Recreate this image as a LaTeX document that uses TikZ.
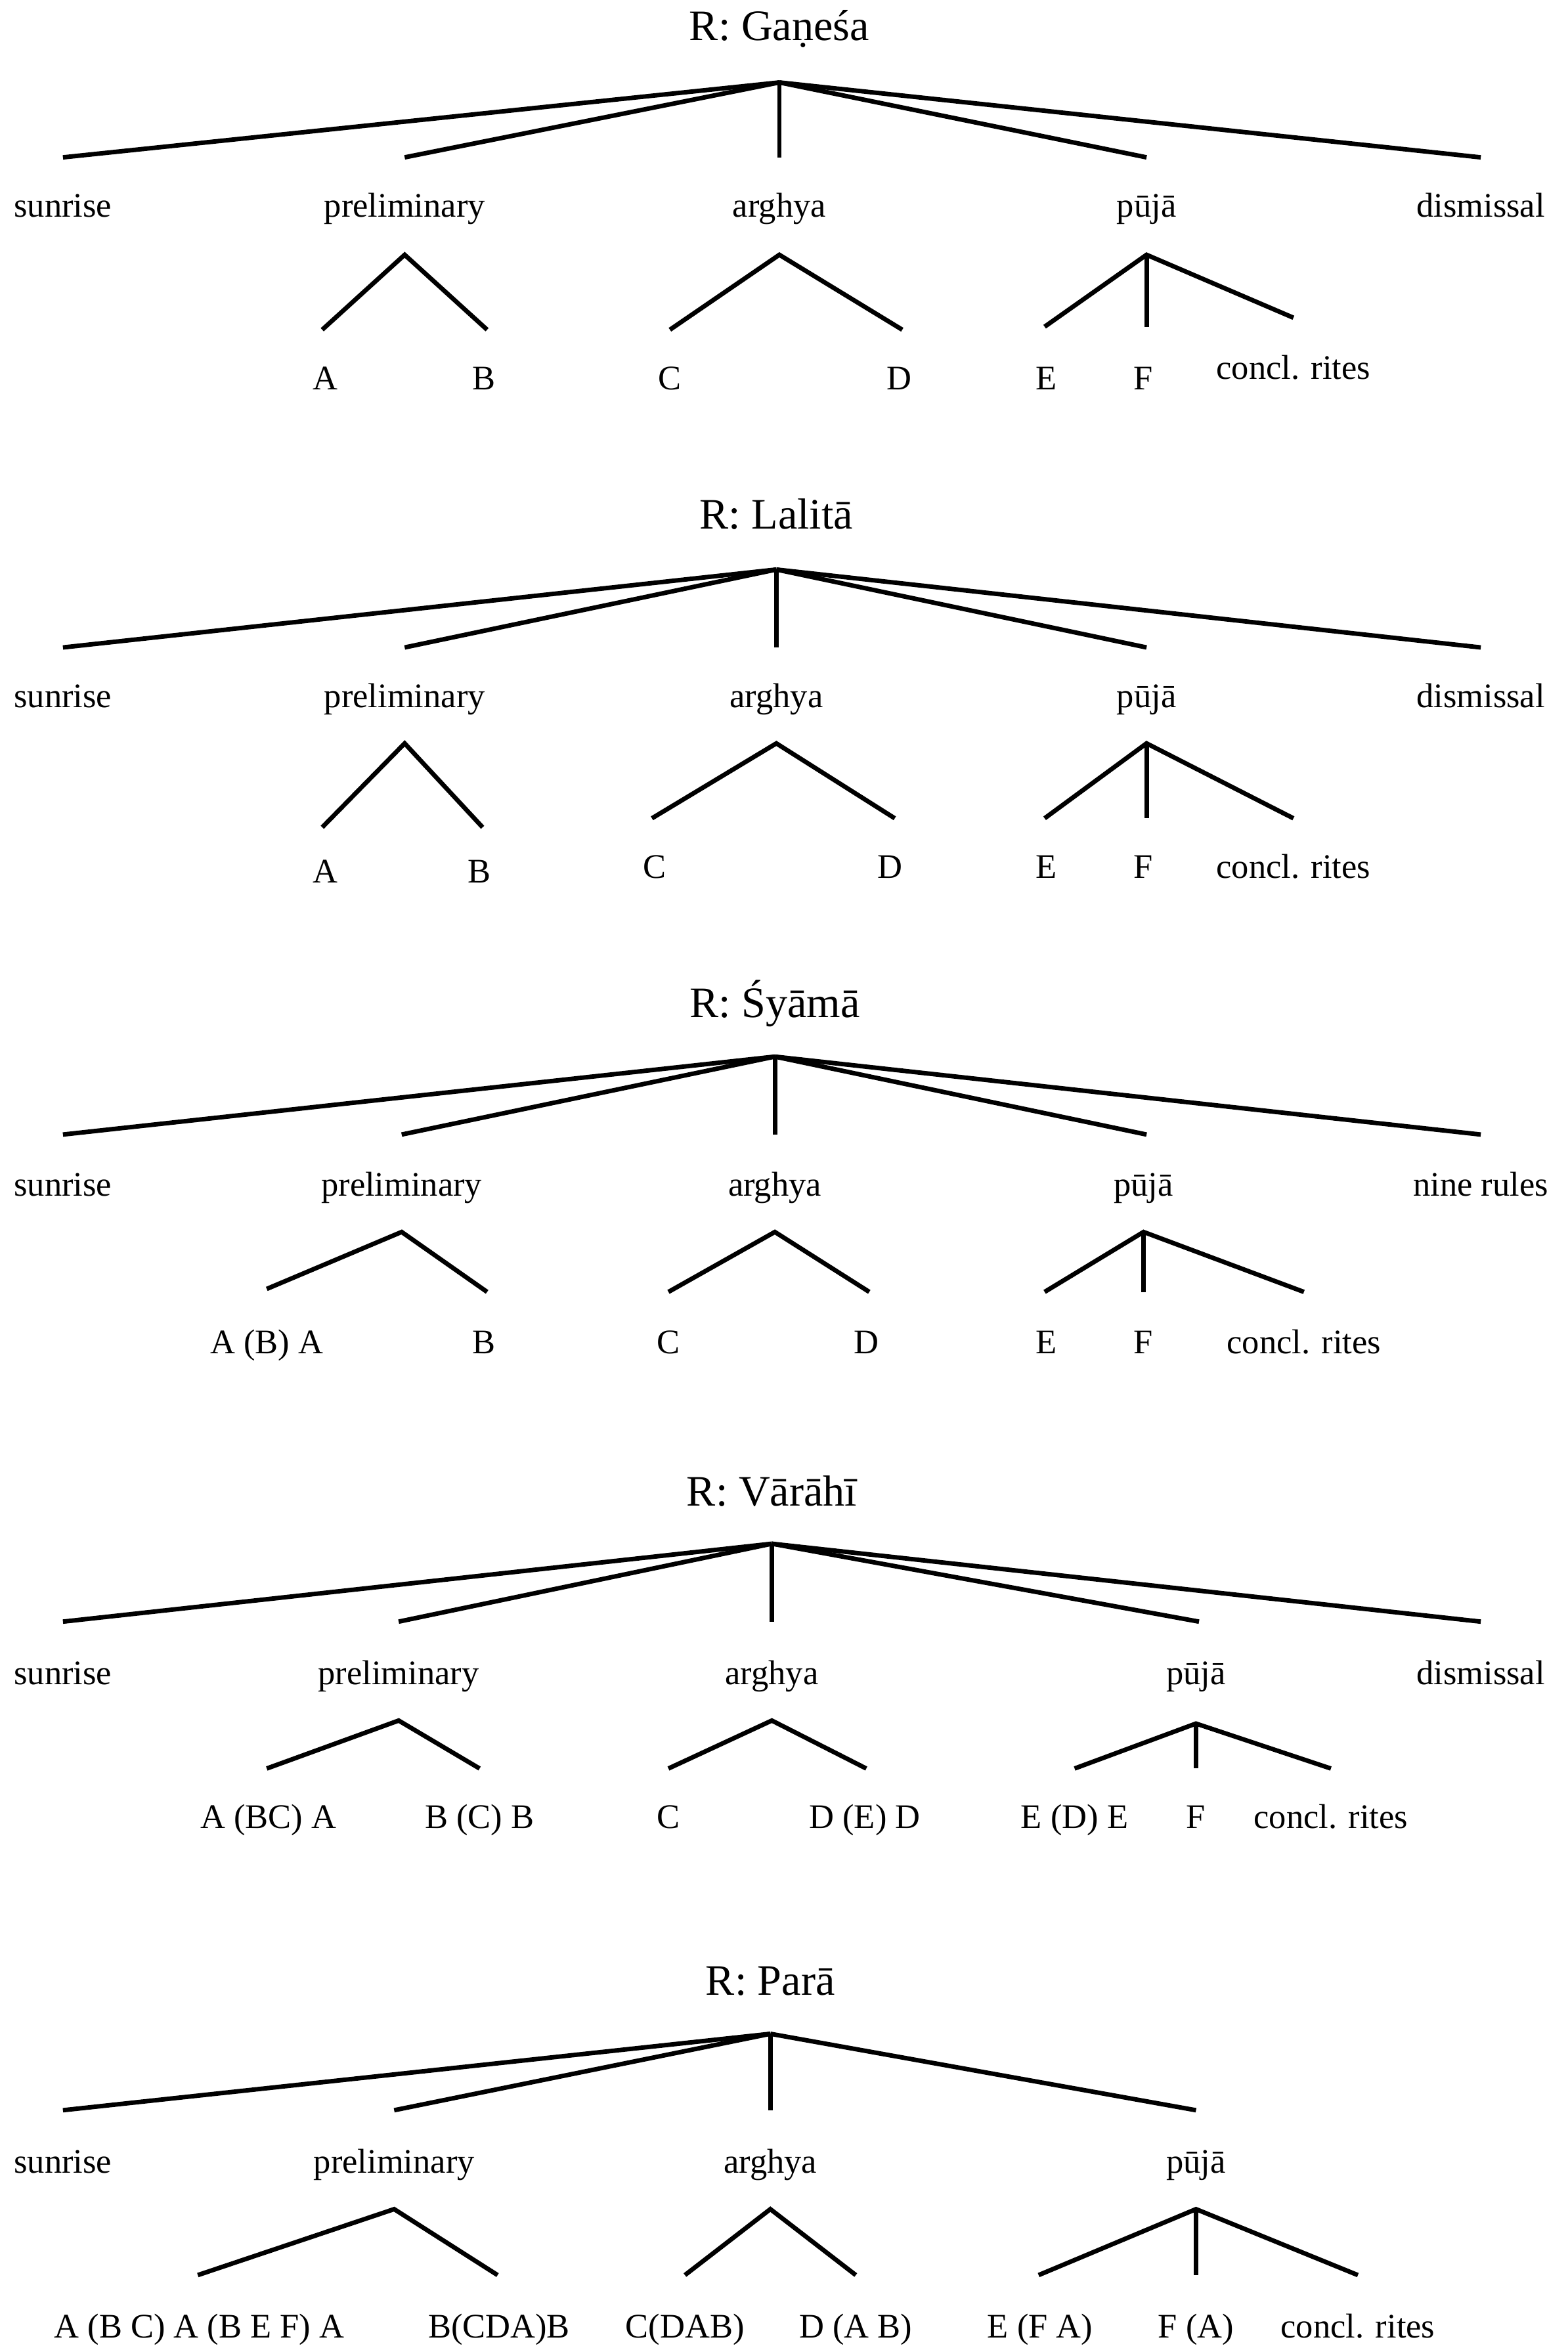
\documentclass[tikz,border=0pt]{standalone}
\usepackage{fontspec}
\setmainfont{Liberation Serif}
\begin{document}
\begin{tikzpicture}[x=0.5pt,y=-0.5pt,
  lbl/.style={font=\fontsize{11.5}{13}\selectfont,inner sep=0pt,anchor=base},
  ttl/.style={font=\fontsize{14.5}{16}\selectfont,inner sep=0pt,anchor=base},
  br/.style={line width=1.5pt}]
\useasboundingbox (0,0) rectangle (1046,1568);
% ---------- Tree 1
\node[ttl] (t1) at (520,27) {R: Gaṇeśa};
\coordinate (r1) at (520,55);
\foreach \n/\x in {s/42,p/270,a/520,u/765,d/988}{\coordinate (r1\n) at (\x,105);}
\node[lbl] (l1s) at (42,145) {sunrise};
\node[lbl] (l1p) at (270,145) {preliminary};
\node[lbl] (l1a) at (520,145) {arghya};
\node[lbl] (l1u) at (765,145) {pūjā};
\node[lbl] (l1d) at (988,145) {dismissal};
\foreach \n in {s,p,a,u,d}{\draw[br] (r1) -- (r1\n);}
\coordinate (p1) at (270,170); \coordinate (p1a) at (215,220); \coordinate (p1b) at (325,220);
\coordinate (a1) at (520,170); \coordinate (a1a) at (447,220); \coordinate (a1b) at (602,220);
\coordinate (u1) at (765,170); \coordinate (u1a) at (697,218); \coordinate (u1b) at (765,218); \coordinate (u1c) at (863,212);
\draw[br] (p1a) -- (p1) -- (p1b); \draw[br] (a1a) -- (a1) -- (a1b);
\draw[br] (u1a) -- (u1) -- (u1c); \draw[br] (u1) -- (u1b);
\node[lbl] (A1) at (217,260) {A}; \node[lbl] (B1) at (323,260) {B};
\node[lbl] (C1) at (447,260) {C}; \node[lbl] (D1) at (600,260) {D};
\node[lbl] (E1) at (698,260) {E}; \node[lbl] (F1) at (763,260) {F};
\node[lbl] (G1) at (863,253) {concl. rites};
% ---------- Tree 2
\node[ttl] (t2) at (518,353) {R: Lalitā};
\coordinate (r2) at (518,380);
\foreach \n/\x in {s/42,p/270,a/518,u/765,d/988}{\coordinate (r2\n) at (\x,432);}
\node[lbl] (l2s) at (42,472) {sunrise};
\node[lbl] (l2p) at (270,472) {preliminary};
\node[lbl] (l2a) at (518,472) {arghya};
\node[lbl] (l2u) at (765,472) {pūjā};
\node[lbl] (l2d) at (988,472) {dismissal};
\foreach \n in {s,p,a,u,d}{\draw[br] (r2) -- (r2\n);}
\coordinate (p2) at (270,496); \coordinate (p2a) at (215,552); \coordinate (p2b) at (322,552);
\coordinate (a2) at (518,496); \coordinate (a2a) at (435,546); \coordinate (a2b) at (597,546);
\coordinate (u2) at (765,496); \coordinate (u2a) at (697,546); \coordinate (u2b) at (765,546); \coordinate (u2c) at (863,546);
\draw[br] (p2a) -- (p2) -- (p2b); \draw[br] (a2a) -- (a2) -- (a2b);
\draw[br] (u2a) -- (u2) -- (u2c); \draw[br] (u2) -- (u2b);
\node[lbl] (A2) at (217,589) {A}; \node[lbl] (B2) at (320,589) {B};
\node[lbl] (C2) at (437,586) {C}; \node[lbl] (D2) at (594,586) {D};
\node[lbl] (E2) at (698,586) {E}; \node[lbl] (F2) at (763,586) {F};
\node[lbl] (G2) at (863,586) {concl. rites};
% ---------- Tree 3
\node[ttl] (t3) at (517,679) {R: Śyāmā};
\coordinate (r3) at (517,705);
\foreach \n/\x in {s/42,p/268,a/517,u/765,d/988}{\coordinate (r3\n) at (\x,757);}
\node[lbl] (l3s) at (42,798) {sunrise};
\node[lbl] (l3p) at (268,798) {preliminary};
\node[lbl] (l3a) at (517,798) {arghya};
\node[lbl] (l3u) at (763,798) {pūjā};
\node[lbl] (l3d) at (988,798) {nine rules};
\foreach \n in {s,p,a,u,d}{\draw[br] (r3) -- (r3\n);}
\coordinate (p3) at (268,822); \coordinate (p3a) at (178,860); \coordinate (p3b) at (325,862);
\coordinate (a3) at (517,822); \coordinate (a3a) at (446,862); \coordinate (a3b) at (580,862);
\coordinate (u3) at (763,822); \coordinate (u3a) at (697,862); \coordinate (u3b) at (763,862); \coordinate (u3c) at (870,862);
\draw[br] (p3a) -- (p3) -- (p3b); \draw[br] (a3a) -- (a3) -- (a3b);
\draw[br] (u3a) -- (u3) -- (u3c); \draw[br] (u3) -- (u3b);
\node[lbl] (A3) at (178,903) {A (B) A}; \node[lbl] (B3) at (323,903) {B};
\node[lbl] (C3) at (446,903) {C}; \node[lbl] (D3) at (578,903) {D};
\node[lbl] (E3) at (698,903) {E}; \node[lbl] (F3) at (763,903) {F};
\node[lbl] (G3) at (870,903) {concl. rites};
% ---------- Tree 4
\node[ttl] (t4) at (515,1005) {R: Vārāhī};
\coordinate (r4) at (515,1030);
\foreach \n/\x in {s/42,p/266,a/515,u/800,d/988}{\coordinate (r4\n) at (\x,1082);}
\node[lbl] (l4s) at (42,1124) {sunrise};
\node[lbl] (l4p) at (266,1124) {preliminary};
\node[lbl] (l4a) at (515,1124) {arghya};
\node[lbl] (l4u) at (798,1124) {pūjā};
\node[lbl] (l4d) at (988,1124) {dismissal};
\foreach \n in {s,p,a,u,d}{\draw[br] (r4) -- (r4\n);}
\coordinate (p4) at (266,1148); \coordinate (p4a) at (178,1180); \coordinate (p4b) at (320,1180);
\coordinate (a4) at (515,1148); \coordinate (a4a) at (446,1180); \coordinate (a4b) at (578,1180);
\coordinate (u4) at (798,1150); \coordinate (u4a) at (717,1180); \coordinate (u4b) at (798,1180); \coordinate (u4c) at (888,1180);
\draw[br] (p4a) -- (p4) -- (p4b); \draw[br] (a4a) -- (a4) -- (a4b);
\draw[br] (u4a) -- (u4) -- (u4c); \draw[br] (u4) -- (u4b);
\node[lbl] (A4) at (179,1220) {A (BC) A}; \node[lbl] (B4) at (320,1220) {B (C) B};
\node[lbl] (C4) at (446,1220) {C}; \node[lbl] (D4) at (577,1220) {D (E) D};
\node[lbl] (E4) at (717,1220) {E (D) E}; \node[lbl] (F4) at (798,1220) {F};
\node[lbl] (G4) at (888,1220) {concl. rites};
% ---------- Tree 5
\node[ttl] (t5) at (514,1331) {R: Parā};
\coordinate (r5) at (514,1357);
\foreach \n/\x in {s/42,p/263,a/514,u/798}{\coordinate (r5\n) at (\x,1408);}
\node[lbl] (l5s) at (42,1450) {sunrise};
\node[lbl] (l5p) at (263,1450) {preliminary};
\node[lbl] (l5a) at (514,1450) {arghya};
\node[lbl] (l5u) at (798,1450) {pūjā};
\foreach \n in {s,p,a,u}{\draw[br] (r5) -- (r5\n);}
\coordinate (p5) at (263,1474); \coordinate (p5a) at (132,1518); \coordinate (p5b) at (332,1518);
\coordinate (a5) at (514,1474); \coordinate (a5a) at (457,1518); \coordinate (a5b) at (571,1518);
\coordinate (u5) at (798,1474); \coordinate (u5a) at (693,1518); \coordinate (u5b) at (798,1518); \coordinate (u5c) at (906,1518);
\draw[br] (p5a) -- (p5) -- (p5b); \draw[br] (a5a) -- (a5) -- (a5b);
\draw[br] (u5a) -- (u5) -- (u5c); \draw[br] (u5) -- (u5b);
\node[lbl] (A5) at (133,1560) {A (B C) A (B E F) A}; \node[lbl] (B5) at (333,1560) {B(CDA)B};
\node[lbl] (C5) at (457,1560) {C(DAB)}; \node[lbl] (D5) at (571,1560) {D (A B)};
\node[lbl] (E5) at (694,1560) {E (F A)}; \node[lbl] (F5) at (798,1560) {F (A)};
\node[lbl] (G5) at (906,1560) {concl. rites};
\end{tikzpicture}
\end{document}
